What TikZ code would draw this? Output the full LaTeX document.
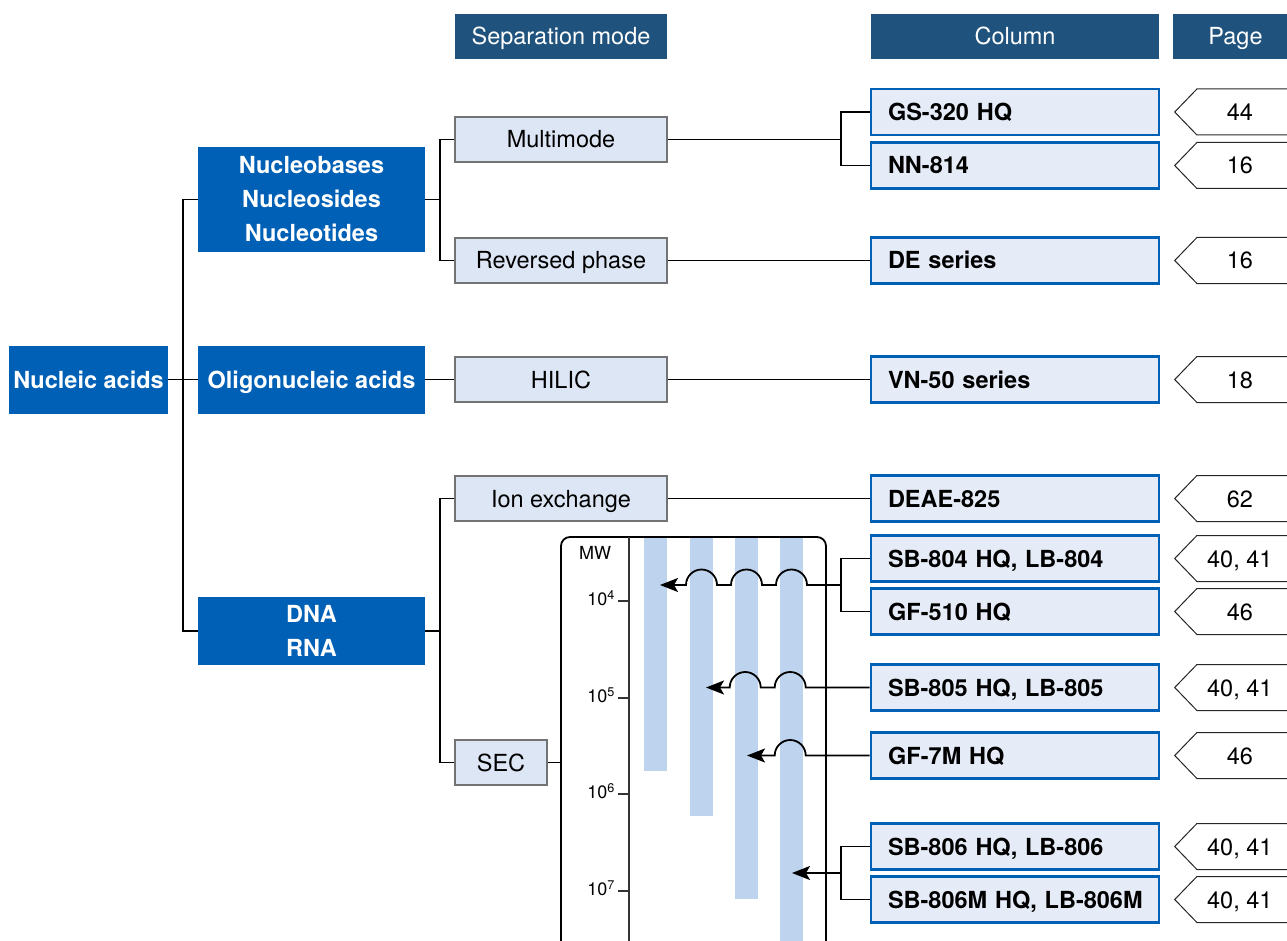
\documentclass[tikz,border=0pt]{standalone}
\usepackage{fontspec}
\setmainfont{TeX Gyre Heros}
\usetikzlibrary{shapes.symbols,arrows.meta}
\definecolor{headBlue}{RGB}{31,82,124}
\definecolor{catBlue}{RGB}{0,96,182}
\definecolor{modeFill}{RGB}{220,230,244}
\definecolor{colFill}{RGB}{229,236,247}
\definecolor{barBlue}{RGB}{190,212,238}
\newcommand{\boxFont}[0]{\fontsize{23.5}{34}\selectfont}
\newcommand{\axisFont}[0]{\fontsize{18}{21}\selectfont}

\begin{document}
\begin{tikzpicture}[x=1pt,y=-1pt]
  \tikzset{head/.style={fill=headBlue,text=white,inner sep=0pt,minimum height=45pt,text height=20pt,text depth=3pt,font=\boxFont},
           cat/.style={fill=catBlue,text=white,inner sep=0pt,minimum width=227pt,minimum height=68pt,align=center,font=\boxFont\bfseries},
           mode/.style={draw=black!55,fill=modeFill,line width=1.2pt,inner sep=0pt,minimum width=212pt,minimum height=45pt,text height=20pt,text depth=3pt,font=\boxFont},
           column/.style={draw=catBlue,fill=colFill,line width=2.6pt,inner xsep=17pt,inner ysep=0pt,text width=254pt,minimum height=46pt,text height=20pt,text depth=3pt,align=left,font=\boxFont\bfseries},
           page/.style={shape=signal,signal to=west,signal pointer angle=92,draw=black!85,line width=1pt,inner sep=0pt,minimum width=130pt,minimum height=46pt,text height=20pt,text depth=3pt,anchor=west,font=\boxFont},
           link/.style={line width=1.8pt},
           hop/.style={link,-{Stealth[length=18pt,width=14pt,inset=4pt]}}}
  \useasboundingbox (0,0) rectangle (1287,941);
  % headers
  \node[head,minimum width=212pt] (hmode) at (561,36.5) {Separation mode};
  \node[head,minimum width=288pt] (hcol) at (1015,36.5) {Column};
  \node[head,minimum width=125pt] (hpage) at (1235.5,36.5) {Page};
  % sample types
  \node[cat,minimum width=159pt] (nuc) at (88.5,379.5) {Nucleic acids};
  \node[cat,minimum height=105pt] (bases) at (311.5,199.5) {Nucleobases\\Nucleosides\\Nucleotides};
  \node[cat,text height=20pt,text depth=3pt] (oligo) at (311.5,379.5) {Oligonucleic acids};
  \node[cat] (dna) at (311.5,631) {DNA\\RNA};
  % separation modes
  \node[mode] (multi) at (561,139.5) {Multimode};
  \node[mode] (rev) at (561,260.5) {Reversed phase};
  \node[mode] (hilic) at (561,379.5) {HILIC};
  \node[mode] (ion) at (561,498.5) {Ion exchange};
  \node[mode,minimum width=92pt] (sec) at (501,762.5) {SEC};
  % columns and pages
  \foreach \name/\y/\col/\pg in {gs/112/GS-320 HQ/44, nn/165.5/NN-814/16, de/260.5/DE series/16,
      vn/379.5/VN-50 series/18, deae/498.5/DEAE-825/62, sbf/558.5/{SB-804 HQ, LB-804}/{40, 41},
      gff/611.5/GF-510 HQ/46, sbv/687.5/{SB-805 HQ, LB-805}/{40, 41}, gfm/755.5/GF-7M HQ/46,
      sbs/846.5/{SB-806 HQ, LB-806}/{40, 41}, sbm/899.5/{SB-806M HQ, LB-806M}/{40, 41}}{
    \node[column] (\name) at (1015,\y) {\mbox{\col}};
    \node[page] (p\name) at (1174,\y) {\hspace*{-22pt}\pg};
  }
  % SEC chart
  \foreach \x/\b in {644/771,690/816,735/899,780/950}
    \fill[barBlue] (\x,537) rectangle (\x+23,\b);
  \draw[link,rounded corners=9pt] (561,950) -- (561,537) -- (826,537) -- (826,950);
  \draw[line width=1.1pt,black!80] (629,537) -- (629,950);
  \node[font=\axisFont] (mw) at (595,553) {MW};
  \foreach \e/\y in {4/601,5/698,6/794,7/891}{
    \draw[line width=1.1pt,black!80] (618,\y) -- (629,\y);
    \node[font=\axisFont,anchor=east,inner sep=0pt] (mw\e) at (615,\y-3) {10\textsuperscript{\e}};
  }
  \coordinate (j1) at (183,379.5);
  \coordinate (j2) at (440,199.5);
  \coordinate (j3) at (440,631);
  \coordinate (j4) at (841,139.5);
  \coordinate (j5) at (841,585);
  \coordinate (j6) at (841,873);
  \coordinate (chart) at (561,762.5);
  \coordinate (tip1) at (660,585);
  \coordinate (tip2) at (706,687.5);
  \coordinate (tip3) at (747,755.5);
  \coordinate (tip4) at (792,873);
  \draw[link] (nuc.east) -- (oligo.west);
  \draw[link] (bases.west) -| (j1) |- (dna.west);
  \draw[link] (bases.east) -- (j2);
  \draw[link] (multi.west) -| (j2) |- (rev.west);
  \draw[link] (oligo.east) -- (hilic.west);
  \draw[link] (dna.east) -- (j3);
  \draw[link] (ion.west) -| (j3) |- (sec.west);
  \draw[link] (multi.east) -- (j4);
  \draw[link] (gs.west) -| (j4) |- (nn.west);
  \draw[link] (rev.east) -- (de.west);
  \draw[link] (hilic.east) -- (vn.west);
  \draw[link] (ion.east) -- (deae.west);
  \draw[link] (sec.east) -- (chart);
  \draw[link] (sbf.west) -| (j5) |- (gff.west);
  \draw[link] (sbs.west) -| (j6) |- (sbm.west);
  \draw[hop] (j5) -- ++(-34,0) arc[start angle=0,end angle=180,radius=15.5pt]
    -- ++(-14,0) arc[start angle=0,end angle=180,radius=15.5pt]
    -- ++(-14,0) arc[start angle=0,end angle=180,radius=15.5pt] -- (tip1);
  \draw[hop] (sbv.west) -- ++(-64,0) arc[start angle=0,end angle=180,radius=15.5pt]
    -- ++(-14,0) arc[start angle=0,end angle=180,radius=15.5pt] -- (tip2);
  \draw[hop] (gfm.west) -- ++(-64,0) arc[start angle=0,end angle=180,radius=15.5pt] -- (tip3);
  \draw[hop] (j6) -- (tip4);
\end{tikzpicture}
\end{document}
